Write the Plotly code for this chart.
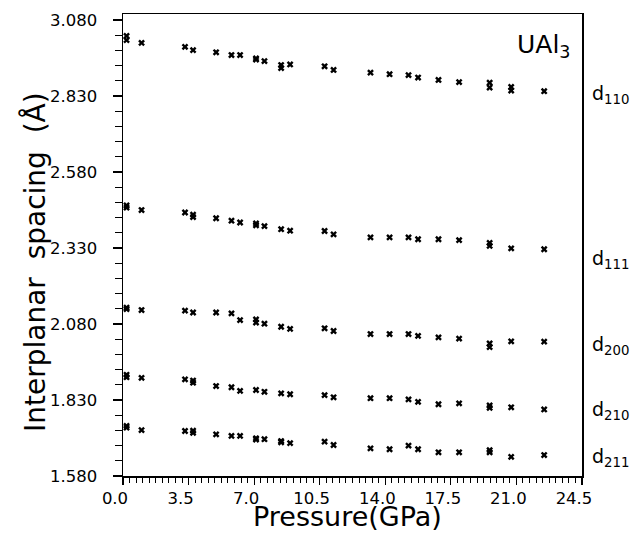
import plotly.graph_objects as go

# ---- data (pressure in GPa, interplanar spacing in Angstrom) ----
p_110 = [0.19, 0.19, 0.99, 3.31, 3.74, 4.97, 5.79, 6.25, 7.10, 7.10, 7.55, 8.44, 8.44, 8.92,
         10.76, 11.24, 13.21, 14.23, 15.24, 15.75, 16.84, 17.94, 19.57, 19.57, 20.72, 20.72, 22.48]
d_110 = [3.028, 3.014, 3.005, 2.992, 2.981, 2.974, 2.965, 2.965, 2.954, 2.950, 2.945, 2.932, 2.922, 2.934,
         2.928, 2.916, 2.907, 2.902, 2.899, 2.891, 2.883, 2.876, 2.874, 2.858, 2.860, 2.848, 2.846]

p_111 = [0.19, 0.19, 0.99, 3.31, 3.74, 3.74, 4.97, 5.79, 6.25, 7.10, 7.10, 7.55, 8.44, 8.92,
         10.76, 11.24, 13.21, 14.23, 15.24, 15.75, 16.84, 17.94, 19.57, 19.57, 20.72, 22.48]
d_111 = [2.470, 2.463, 2.455, 2.447, 2.440, 2.432, 2.428, 2.420, 2.414, 2.411, 2.405, 2.402, 2.392, 2.387,
         2.386, 2.375, 2.365, 2.365, 2.365, 2.359, 2.359, 2.356, 2.347, 2.337, 2.329, 2.326]

p_200 = [0.19, 0.19, 0.99, 3.31, 3.74, 4.97, 5.79, 6.25, 7.10, 7.10, 7.55, 8.44, 8.92,
         10.76, 11.24, 13.21, 14.23, 15.24, 15.75, 16.84, 17.94, 19.57, 19.57, 20.72, 22.48]
d_200 = [2.134, 2.129, 2.126, 2.124, 2.118, 2.118, 2.115, 2.093, 2.095, 2.085, 2.081, 2.071, 2.064,
         2.066, 2.057, 2.047, 2.047, 2.047, 2.041, 2.036, 2.032, 2.016, 2.004, 2.023, 2.022]

p_210 = [0.19, 0.19, 0.99, 3.31, 3.74, 3.74, 4.97, 5.79, 6.25, 7.10, 7.55, 8.44, 8.92,
         10.76, 11.24, 13.21, 14.23, 15.24, 15.75, 16.84, 17.94, 19.57, 19.57, 20.72, 22.48]
d_210 = [1.913, 1.905, 1.903, 1.898, 1.894, 1.887, 1.876, 1.872, 1.860, 1.863, 1.857, 1.852, 1.849,
         1.846, 1.839, 1.836, 1.836, 1.832, 1.824, 1.816, 1.819, 1.812, 1.804, 1.806, 1.799]

p_211 = [0.19, 0.19, 0.99, 3.31, 3.74, 3.74, 4.97, 5.79, 6.25, 7.10, 7.10, 7.55, 8.44, 8.44, 8.92,
         10.76, 11.24, 13.21, 14.23, 15.24, 15.75, 16.84, 17.94, 19.57, 19.57, 20.72, 22.48]
d_211 = [1.745, 1.739, 1.731, 1.728, 1.729, 1.722, 1.717, 1.712, 1.712, 1.704, 1.700, 1.701, 1.695, 1.691, 1.688,
         1.693, 1.682, 1.671, 1.668, 1.680, 1.668, 1.658, 1.658, 1.665, 1.658, 1.643, 1.649]

series_names = ["d<sub>110</sub>", "d<sub>111</sub>", "d<sub>200</sub>", "d<sub>210</sub>", "d<sub>211</sub>"]
series_p = [p_110, p_111, p_200, p_210, p_211]
series_d = [d_110, d_111, d_200, d_210, d_211]

x_tick_start, x_tick_step = 0.0, 3.5
y_tick_start, y_tick_step = 1.58, 0.25

# ---- layout geometry (pixels) ----
W, H = 634, 535
L, R, T, B = 123, 582, 14, 476
FONT = "DejaVu Sans"

def px(x):
    return (x - L) / (R - L)

def py(y):
    return (B - y) / (B - T)

fig = go.Figure()
for name, p, d in zip(series_names, series_p, series_d):
    fig.add_trace(go.Scatter(
        x=p, y=d, mode="markers", name=name, showlegend=False,
        marker=dict(symbol="x", size=6, color="black", line=dict(width=0)),
    ))

label_y = [94, 259, 345, 411, 457]
annotations = []
for name, ly in zip(series_names, label_y):
    annotations.append(dict(
        text=name, xref="paper", yref="paper", x=px(590), y=py(ly),
        xanchor="left", yanchor="middle", showarrow=False,
        font=dict(family=FONT, size=19, color="black"),
    ))
annotations.append(dict(
    text="UAl<sub>3</sub>", xref="paper", yref="paper", x=px(573), y=py(46),
    xanchor="right", yanchor="middle", showarrow=False,
    font=dict(family=FONT, size=25, color="black"),
))
annotations.append(dict(
    text="Pressure(GPa)", xref="paper", yref="paper", x=px(347), y=py(516),
    xanchor="center", yanchor="middle", showarrow=False, borderpad=0,
    font=dict(family=FONT, size=27, color="black"),
))
annotations.append(dict(
    text="Interplanar  spacing  (Å)", xref="paper", yref="paper", x=px(35), y=py(262),
    xanchor="center", yanchor="middle", showarrow=False, textangle=-90,
    font=dict(family=FONT, size=28, color="black"),
))

fig.update_layout(
    width=W, height=H,
    margin=dict(l=L, r=W - R, t=T, b=H - B, pad=0),
    paper_bgcolor="white", plot_bgcolor="white",
    font=dict(family=FONT, color="black"),
    annotations=annotations,
)

fig.update_xaxes(
    range=[0, 24.5], tickmode="linear", tick0=x_tick_start, dtick=x_tick_step, tickformat=".1f",
    showgrid=False, zeroline=False,
    showline=True, linecolor="black", linewidth=1.5, mirror=True,
    ticks="outside", ticklen=7, tickwidth=1.2, tickcolor="black",
    tickfont=dict(family=FONT, size=16.5, color="black"),
    ticklabelstandoff=0, ticklabelshift=-8,
    minor=dict(dtick=0.35, tick0=0, ticks="outside", ticklen=5, tickwidth=1, tickcolor="black", showgrid=False),
)
fig.update_yaxes(
    range=[1.58, 3.10], tickmode="linear", tick0=y_tick_start, dtick=y_tick_step, tickformat=".3f",
    showgrid=False, zeroline=False,
    showline=True, linecolor="black", linewidth=1.5, mirror=True,
    ticks="outside", ticklen=9, tickwidth=1.2, tickcolor="black",
    tickfont=dict(family=FONT, size=16.5, color="black"),
    ticklabelstandoff=12,
    minor=dict(dtick=0.05, tick0=1.58, ticks="outside", ticklen=7, tickwidth=1, tickcolor="black", showgrid=False),
)

fig.write_html(
    "out.html",
    config={"displayModeBar": False, "staticPlot": True},
    post_script="document.body.style.margin='0';document.body.style.overflow='hidden';",
)
